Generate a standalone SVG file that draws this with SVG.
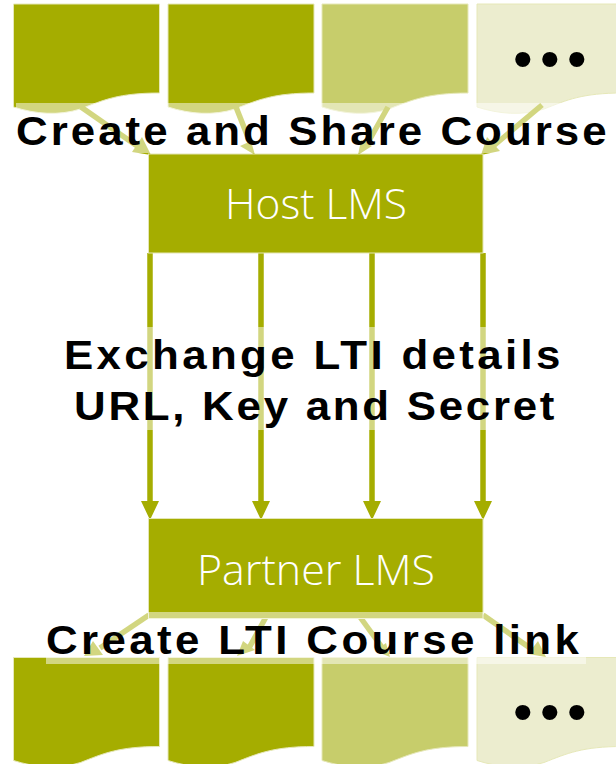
<svg xmlns="http://www.w3.org/2000/svg" width="616" height="764" viewBox="0 0 616 764">
<style>
.d{stroke:#e6e8b8;stroke-width:1}
.g{fill:#a5ad00}
.m{fill:#c7cd6b}
.p{fill:#ecedcf}
.box{fill:#a5ad00;stroke:#e4e6b4;stroke-width:1}
.bt{font-family:"Open Sans","Noto Sans",sans-serif;font-weight:300;font-size:42px;fill:#fff;text-anchor:middle}
.lb{font-family:"Liberation Sans",Arial,sans-serif;font-weight:bold;font-size:41px;fill:#000}
.dots{font-family:"Liberation Sans",Arial,sans-serif;font-size:56px;fill:#000}
.band{fill:#fff;fill-opacity:.5}
.c{fill:none;stroke:#a5ad00;stroke-width:5.500}
.h{fill:#a5ad00}
</style>
<defs>
<path id="doc" d="M0 0H146V89C105 89 90 96 67 105C45 112 22 110 0 103Z"/>
</defs>
<g id="top-doc-1"><use href="#doc" x="13.500" y="4" class="g d"/></g>
<g id="top-doc-2"><use href="#doc" x="168" y="4" class="g d"/></g>
<g id="top-doc-3"><use href="#doc" x="322" y="4" class="m d"/></g>
<g id="top-doc-4"><use href="#doc" x="477" y="4" class="p d"/><text class="dots" x="553.500" y="78" text-anchor="middle" letter-spacing="7.400">•••</text></g>
<g id="bottom-doc-1"><use href="#doc" x="13.500" y="657.500" class="g d"/></g>
<g id="bottom-doc-2"><use href="#doc" x="168" y="657.500" class="g d"/></g>
<g id="bottom-doc-3"><use href="#doc" x="322" y="657.500" class="m d"/></g>
<g id="bottom-doc-4"><use href="#doc" x="477" y="657.500" class="p d"/><text class="dots" x="553.500" y="731" text-anchor="middle" letter-spacing="7.400">•••</text></g>
<g id="connectors">
<path class="c" d="M81 107L140 148"/><path class="h" d="M151 155L132 152L142 137Z"/>
<path class="c" d="M236 107L251 145"/><path class="h" d="M255 155L240 146L251 141Z"/>
<path class="c" d="M388 107L366 146"/><path class="h" d="M358 155L361 140L372 146Z"/>
<path class="c" d="M542 105L491 148"/><path class="h" d="M481 155L487 137L500 151Z"/>
<path class="c" d="M150 253V505M261 253V505M372 253V505M483 253V505"/>
<path class="h" d="M141 501H159L150 520ZM252 501H270L261 520ZM363 501H381L372 520ZM474 501H492L483 520Z"/>
<path class="c" d="M149 615L100 648"/><path class="h" d="M84 656L93 641L103 655Z"/>
<path class="c" d="M266 617L249 648"/><path class="h" d="M237 656L243 641L255 650Z"/>
<path class="c" d="M360 617L384 650"/><path class="h" d="M390 657L375 651L386 643Z"/>
<path class="c" d="M483 615L530 648"/><path class="h" d="M546 657L528 654L538 641Z"/>
</g>
<g id="host-lms"><rect class="box" x="148.500" y="154" width="334.500" height="99"/><text class="bt" x="316" y="219" textLength="182" lengthAdjust="spacingAndGlyphs">Host LMS</text></g>
<g id="partner-lms"><rect class="box" x="148.500" y="518.500" width="334.500" height="100"/><text class="bt" x="316" y="585" textLength="238" lengthAdjust="spacingAndGlyphs">Partner LMS</text></g>
<g id="labels">
<rect class="band" x="16" y="103" width="593" height="50"/>
<text class="lb" transform="translate(16 145) scale(1.07 1)" textLength="552" lengthAdjust="spacing">Create and Share Course</text>
<rect class="band" x="64" y="327" width="499" height="103"/>
<text class="lb" transform="translate(64 369) scale(1.07 1)" textLength="464" lengthAdjust="spacing">Exchange LTI details</text>
<text class="lb" transform="translate(74 420) scale(1.07 1)" textLength="449" lengthAdjust="spacing">URL, Key and Secret</text>
<rect class="band" x="46" y="612" width="540" height="52"/>
<text class="lb" transform="translate(46 654) scale(1.07 1)" textLength="498" lengthAdjust="spacing">Create LTI Course link</text>
</g>
</svg>
